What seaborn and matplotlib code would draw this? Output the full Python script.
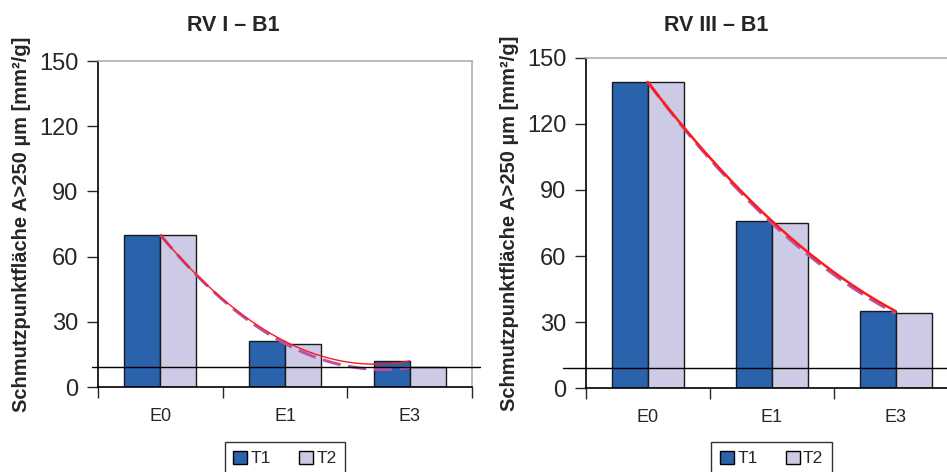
import numpy as np
import pandas as pd
import matplotlib
matplotlib.use("Agg")
import matplotlib.pyplot as plt
import seaborn as sns
from matplotlib.patches import Patch

# Daten
stufen = ["E0", "E1", "E3"]
serien = ["T1", "T2"]
rv1_t1 = [70, 21, 12]
rv1_t2 = [70, 20, 9]
rv3_t1 = [139, 76, 35]
rv3_t2 = [139, 75, 34]
grenzwert = 9
titel = ["RV I – B1", "RV III – B1"]
y_ticks = [0, 30, 60, 90, 120, 150]
y_label = "Schmutzpunktfläche A>250 µm [mm²/g]"

farben = {"T1": "#2A62AC", "T2": "#CCCAE4"}

sns.set_style("white")
plt.rcParams['font.family'] = ['Liberation Sans', 'DejaVu Sans']

fig = plt.figure(figsize=(9.47, 4.72), dpi=100)
ax1 = fig.add_axes([98/947, 85/472, 374/947, 326/472])
ax2 = fig.add_axes([585.7/947, 83.7/472, 372/947, 330.6/472])

def panel(ax, t1, t2, title, title_x, hl, lw_rot):
    df = pd.DataFrame({"Stufe": stufen * 2,
                       "Serie": ["T1"] * 3 + ["T2"] * 3,
                       "Wert": t1 + t2})
    sns.barplot(data=df, x="Stufe", y="Wert", hue="Serie", palette=farben,
                saturation=1, width=0.58, gap=0, edgecolor="#1a1a1a",
                linewidth=1.0, ax=ax, legend=False, zorder=2)
    ax.set_xlim(-0.5, 2.5)
    ax.set_ylim(0, 150)
    ax.set_yticks(y_ticks)
    ax.tick_params(axis="y", labelsize=17, length=8, width=1, direction="out",
                   left=True, pad=6)
    ax.set_xticks([0, 1, 2])
    ax.set_xticklabels(stufen)
    ax.tick_params(axis="x", which="major", labelsize=13, length=0, pad=15)
    ax.set_xticks([-0.5, 0.5, 1.5, 2.5], minor=True)
    ax.tick_params(axis="x", which="minor", length=8, width=1, direction="out",
                   bottom=True)
    ax.set_xlabel("")
    ax.set_ylabel(y_label, fontsize=14.5, fontweight="bold", labelpad=6)
    fig.text(title_x / 947, 1 - 31 / 472, title, fontsize=15.5,
             fontweight="bold", ha="center", va="baseline")
    for s in ["left", "bottom"]:
        ax.spines[s].set_color("black")
        ax.spines[s].set_linewidth(1.2)
    for s in ["top", "right"]:
        ax.spines[s].set_color("#B0B0B0")
        ax.spines[s].set_linewidth(1.2)

    # polynomische Trendlinien (2. Ordnung)
    xs = np.arange(len(stufen))
    xx = np.linspace(0, 2, 200)
    p1 = np.polyfit(xs, t1, 2)
    p2 = np.polyfit(xs, t2, 2)
    ax.plot(xx, np.polyval(p2, xx), color="#B455A8", lw=2.2,
            ls=(0, (6, 2.5)), zorder=3)
    ax.plot(xx, np.polyval(p1, xx), color="#FF1A1A", lw=lw_rot, zorder=4)

    # Grenzwert
    ax.axhline(grenzwert, xmin=hl[0], xmax=hl[1], color="black", lw=1.0,
               clip_on=False, zorder=5)

    handles = [Patch(facecolor=farben[s], edgecolor="black", label=s)
               for s in serien]
    pos = ax.get_position()
    leg = fig.legend(handles=handles, loc="upper center",
                     bbox_to_anchor=(pos.x0 + pos.width / 2, 30 / 472),
                     bbox_transform=fig.transFigure, ncol=2, fontsize=12.5,
                     frameon=True, fancybox=False, edgecolor="black",
                     handlelength=0.8, handleheight=0.8, handletextpad=0.2,
                     columnspacing=1.6, borderpad=0.5, borderaxespad=0)
    leg.get_frame().set_linewidth(1.0)

panel(ax1, rv1_t1, rv1_t2, titel[0], 233, (-0.016, 1.021), 1.0)
panel(ax2, rv3_t1, rv3_t2, titel[1], 716, (-0.061, 1.05), 1.8)

fig.savefig("out.png", dpi=100)
